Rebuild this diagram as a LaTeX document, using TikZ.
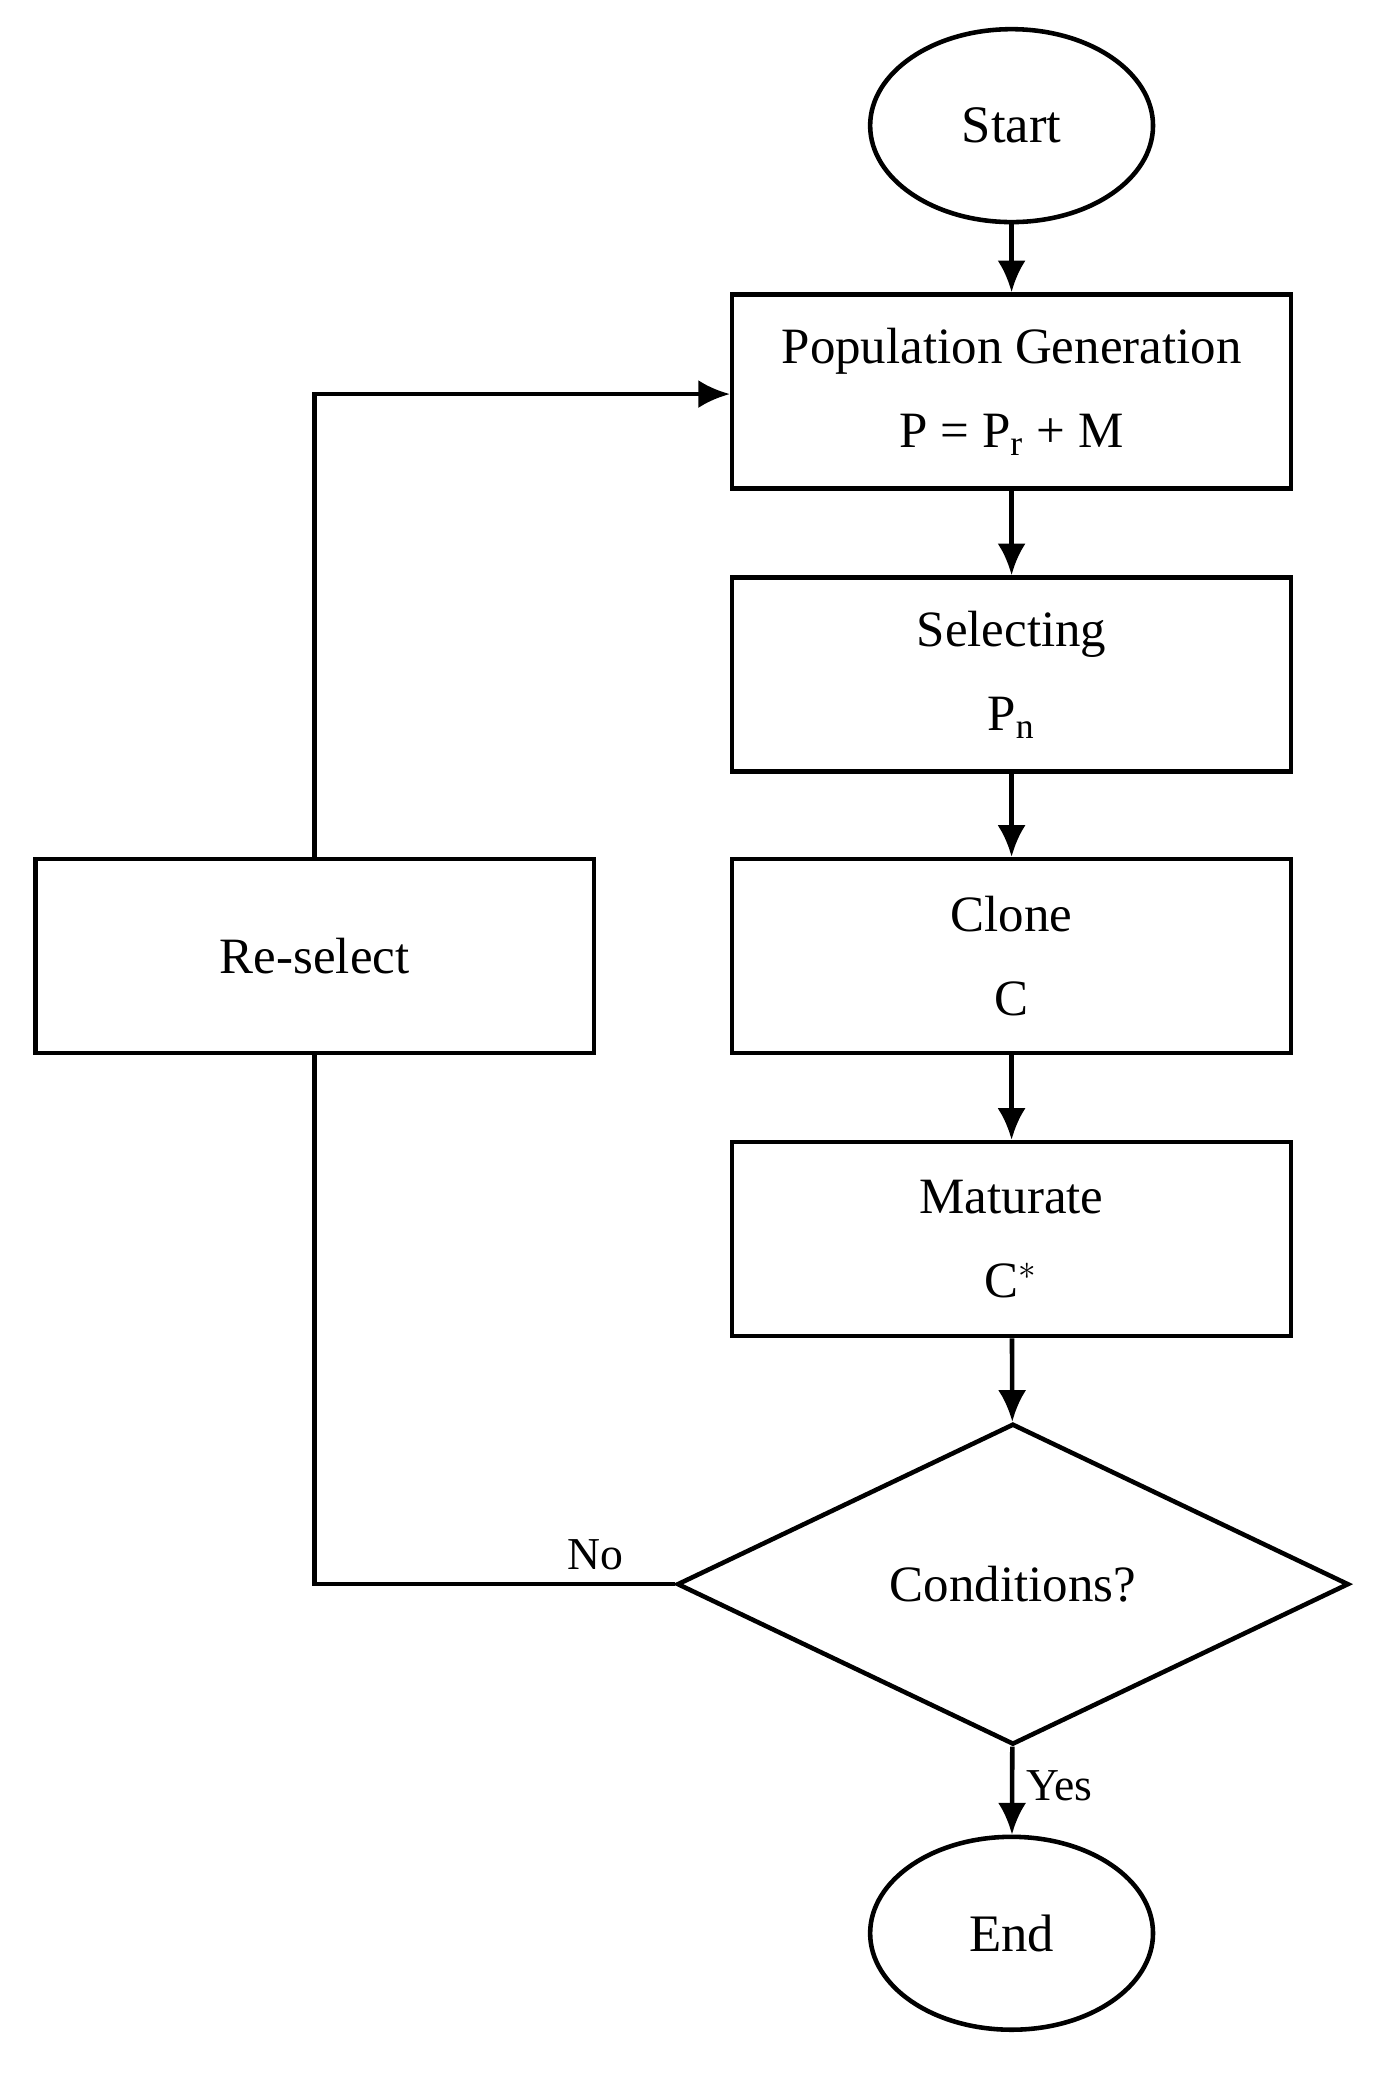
\documentclass[tikz,border=0pt]{standalone}
\usepackage{fontspec}
\setmainfont{Liberation Serif}
\usetikzlibrary{shapes.geometric,arrows.meta}
\tikzset{
  flow/.style={draw, line width=1.3pt, -{Latex[length=9pt,width=8pt]}},
  stage/.style={draw, line width=1.3pt, rectangle, minimum width=5.59cm, minimum height=1.94cm, align=center, font=\fontsize{14.5}{24}\selectfont},
  term/.style={draw, line width=1.3pt, ellipse, minimum width=2.83cm, minimum height=1.93cm, font=\fontsize{15}{18}\selectfont},
  test/.style={draw, line width=1.3pt, diamond, aspect=2.09, minimum width=6.72cm, minimum height=3.21cm, inner sep=0pt, font=\fontsize{14.5}{18}\selectfont},
  lbl/.style={font=\fontsize{13}{16}\selectfont}
}
\begin{document}
\begin{tikzpicture}[x=0.013225cm, y=-0.013225cm]
  \useasboundingbox (0,0) rectangle (1045,1576);
  \node [term] (start) at (765,95) {Start};
  \node [stage] (pop) at (765,296) {Population Generation\\P = P$_{\mathrm{r}}$ + M};
  \node [stage] (sel) at (765,510) {Selecting\\P$_{\mathrm{n}}$};
  \node [stage] (clone) at (765,723) {Clone\\C};
  \node [stage] (mat) at (765,937) {Maturate\\C$^{*}$};
  \node [test] (cond) at (766,1198) {Conditions?};
  \node [term] (end) at (765,1462) {End};
  \node [stage] (resel) at (238,723) {Re-select};
  \coordinate (cornL) at (238,1198);
  \coordinate (cornT) at (238,298);
  %% Arrows
  \path [flow] (start) -- (pop);
  \path [flow] (pop) -- (sel);
  \path [flow] (sel) -- (clone);
  \path [flow] (clone) -- (mat);
  \path [flow] (mat) -- (cond);
  \path [flow] (cond) -- node [lbl, right, pos=0.45] {Yes} (end);
  \draw [line width=1.3pt] (cond.west) -- node [lbl, above, pos=0.22] {No} (cornL) -- (resel.south);
  \path [flow] (resel.north) -- (cornT) -- (pop.west |- cornT);
\end{tikzpicture}
\end{document}
